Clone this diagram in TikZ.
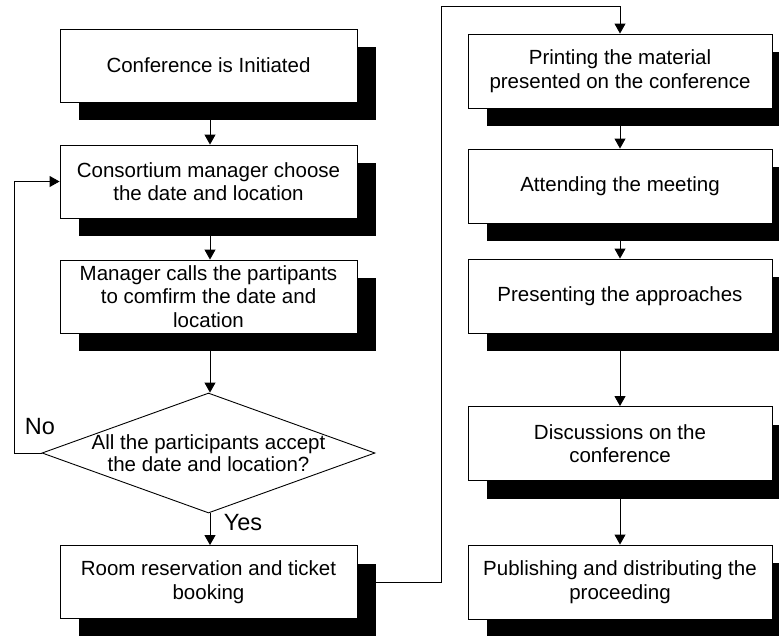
\documentclass[tikz,border=0pt]{standalone}
\usepackage{fontspec}
\setmainfont{Liberation Sans}
\usetikzlibrary{shapes.geometric,shadows,arrows.meta,backgrounds}

\tikzset{
  stepbox/.style={draw=black, line width=0.9pt, fill=white, rectangle,
    inner sep=0pt, align=center,
    font=\fontsize{20.5}{23.5}\selectfont,
    drop shadow={shadow xshift=18.5pt, shadow yshift=-18pt, fill=black, opacity=1}},
  leftbox/.style={stepbox, minimum width=297pt, minimum height=73pt},
  rightbox/.style={stepbox, minimum width=304pt, minimum height=74pt},
  decision/.style={draw=black, line width=0.9pt, diamond, inner sep=0pt,
    minimum width=333pt, minimum height=120pt},
  flow/.style={draw=black, line width=0.9pt, -{Triangle[length=10pt,width=11pt]}},
  tag/.style={font=\fontsize{23.5}{26}\selectfont}
}

\begin{document}
\begin{tikzpicture}[x=1pt,y=-1pt]
  \useasboundingbox (0,0) rectangle (779,635);

  % left column
  \node[leftbox] (init) at (208.5,65.5) {Conference is Initiated};
  \node[leftbox] (choose) at (208.5,181.5) {Consortium manager choose\\the date and location};
  \node[leftbox] (calls) at (208.5,296.5) {Manager calls the partipants\\to comfirm the date and\\location};
  \node[decision] (accept) at (208.5,453) {};
  \node[font=\fontsize{20.5}{21.5}\selectfont, align=center] (accepttext) at (208.5,453)
    {All the participants accept\\the date and location?};
  \node[leftbox] (room) at (208.5,582) {Room reservation and ticket\\booking};

  % right column
  \node[rightbox] (print) at (620,71) {Printing the material\\presented on the conference};
  \node[rightbox] (attend) at (620,186) {Attending the meeting};
  \node[rightbox] (present) at (620,296) {Presenting the approaches};
  \node[rightbox] (discuss) at (620,443.5) {Discussions on the\\conference};
  \node[rightbox] (publish) at (620,582) {Publishing and distributing the\\proceeding};

  % branch labels
  \node[tag] (no) at (40,427) {No};
  \node[tag] (yes) at (243,523) {Yes};

  % bends of the routed connectors
  \coordinate (loopx) at (14,453);
  \coordinate (jump) at (441,6);

  \begin{pgfonlayer}{background}
    \draw[flow] (init.south -| 210,0) -- (choose.north -| 210,0);
    \draw[flow] (choose.south -| 210,0) -- (calls.north -| 210,0);
    \draw[flow] (calls.south -| 210,0) -- (accept.north -| 210,0);
    \draw[flow] (accept.south -| 210,0) -- (room.north -| 210,0);
    \draw[flow] (accept.west) -- (loopx) |- (choose.west);
    \draw[flow] (room.east) -| (jump) -| (print.north);
    \draw[flow] (print) -- (attend);
    \draw[flow] (attend) -- (present);
    \draw[flow] (present) -- (discuss);
    \draw[flow] (discuss) -- (publish);
  \end{pgfonlayer}
\end{tikzpicture}
\end{document}
